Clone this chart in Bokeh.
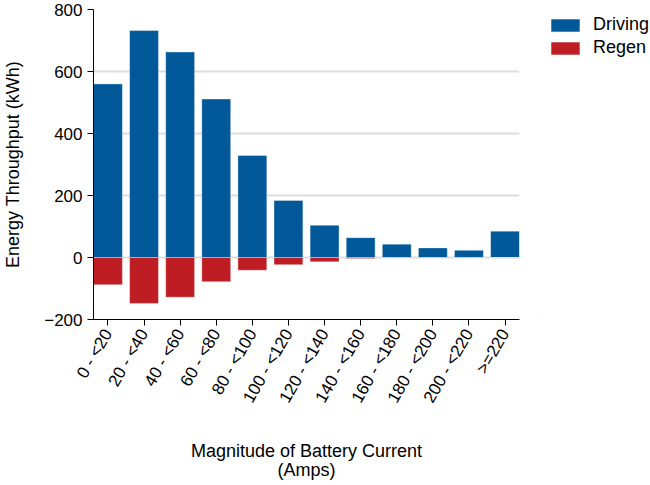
from bokeh.plotting import figure
from bokeh.models import Range1d, FixedTicker, Legend, LegendItem
from bokeh.layouts import row
from bokeh.embed import file_html
from bokeh.resources import INLINE
import math

categories = ["0 - <20", "20 - <40", "40 - <60", "60 - <80", "80 - <100", "100 - <120",
              "120 - <140", "140 - <160", "160 - <180", "180 - <200", "200 - <220", ">=220"]
driving = [560, 732, 663, 511, 329, 184, 104, 64, 43, 31, 23, 85]
regen = [-88, -148, -128, -78, -41, -23, -14, -3, -1, -1, -1, 0]
y_ticks = [-200, 0, 200, 400, 600, 800]
series_names = ["Driving", "Regen"]

FONT = "Liberation Sans"
BLUE = "#02599a"
RED = "#be1e23"
H = 482

xs = list(range(len(categories)))

p = figure(width=527, height=H, output_backend="svg", toolbar_location=None,
           x_range=Range1d(-0.4, len(categories) - 0.6), y_range=Range1d(-200, 800),
           min_border_left=93, min_border_right=8, min_border_top=9, min_border_bottom=0)
p.outline_line_color = None

p.vbar(x=xs, top=driving, bottom=0, width=0.8, fill_color=BLUE,
       line_color="white", line_alpha=0.35, line_width=1)
p.vbar(x=xs, top=0, bottom=regen, width=0.8, fill_color=RED,
       line_color="white", line_alpha=0.35, line_width=1)

# axes
p.xaxis.ticker = FixedTicker(ticks=xs)
p.xaxis.major_label_overrides = {i: c for i, c in enumerate(categories)}
p.xaxis.major_label_orientation = math.pi / 3
p.xaxis.minor_tick_line_color = None
p.yaxis.ticker = FixedTicker(ticks=y_ticks)
p.yaxis.minor_tick_line_color = None
for ax in (p.xaxis, p.yaxis):
    ax.axis_line_color = "black"
    ax.major_tick_line_color = "black"
    ax.major_tick_out = 6
    ax.major_tick_in = 0
    ax.major_label_text_font = FONT
    ax.major_label_text_font_size = "17px"
    ax.major_label_text_color = "black"
    ax.axis_label_text_font = FONT
    ax.axis_label_text_font_size = "18px"
    ax.axis_label_text_font_style = "normal"
    ax.axis_label_text_color = "black"
    ax.axis_label_text_line_height = 0.95
    ax.major_label_standoff = 5

p.xaxis.axis_label = "Magnitude of Battery Current\n(Amps)"
p.xaxis.axis_label_standoff = 27
p.yaxis.axis_label = "Energy Throughput (kWh)"
p.yaxis.axis_label_standoff = 18

p.xgrid.grid_line_color = None
p.ygrid.grid_line_color = "#dddddd"
p.ygrid.grid_line_width = 2

# legend panel (its swatch renderers sit outside the visible range)
lp = figure(width=123, height=H, output_backend="svg", toolbar_location=None,
            x_range=Range1d(0, 1), y_range=Range1d(0, 1),
            x_axis_location=None, y_axis_location=None,
            min_border_left=15, min_border_right=0, min_border_top=0, min_border_bottom=0)
lp.outline_line_color = None
lp.grid.grid_line_color = None
d1 = lp.vbar(x=[-10], top=[-10], bottom=[-11], width=0.8, fill_color=BLUE,
             line_color="white", line_alpha=0.35)
d2 = lp.vbar(x=[-10], top=[-10], bottom=[-11], width=0.8, fill_color=RED,
             line_color="white", line_alpha=0.35)
legend = Legend(items=[LegendItem(label=series_names[0], renderers=[d1]),
                       LegendItem(label=series_names[1], renderers=[d2])],
                location="top_left")
legend.border_line_color = None
legend.background_fill_alpha = 0
legend.glyph_width = 36
legend.glyph_height = 16
legend.label_height = 16
legend.spacing = 2
legend.padding = 0
legend.margin = 5
legend.label_standoff = 10
legend.label_text_font = FONT
legend.label_text_font_size = "18px"
legend.label_text_color = "black"
lp.add_layout(legend)

layout = row(p, lp)
open("out.html", "w").write(file_html(layout, INLINE))
